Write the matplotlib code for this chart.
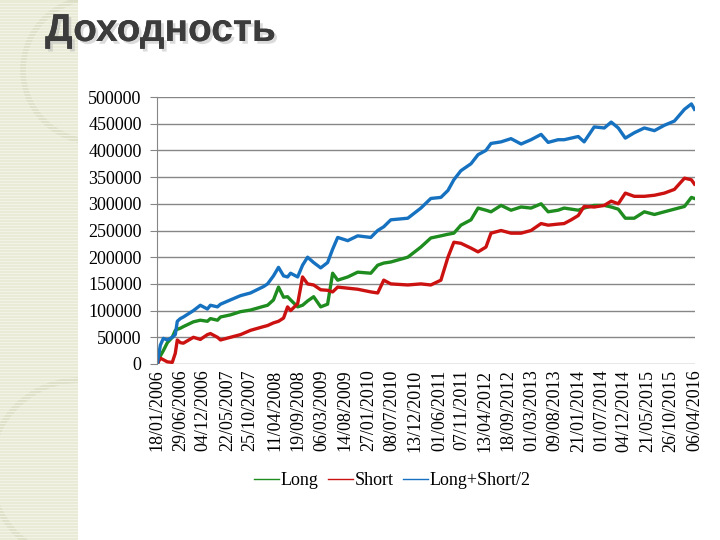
import matplotlib
matplotlib.use("Agg")
from matplotlib import pyplot as plt
from matplotlib.patches import Circle
import matplotlib.patheffects as pe
import pandas as pd

# values (roughly), dates dd/mm/yyyy
dates = ["18/01/2006", "08/02/2006", "01/03/2006", "29/03/2006", "02/05/2006", "23/05/2006",
         "06/06/2006", "27/06/2006", "18/07/2006", "26/09/2006", "13/11/2006", "01/01/2007",
         "22/01/2007", "12/03/2007", "02/04/2007", "10/06/2007", "19/08/2007", "27/10/2007",
         "26/01/2008", "23/02/2008", "04/04/2008", "09/05/2008", "13/06/2008", "11/07/2008",
         "01/08/2008", "19/09/2008", "23/10/2008", "27/11/2008", "08/01/2009", "26/02/2009",
         "15/04/2009", "20/05/2009", "24/06/2009", "02/09/2009", "10/11/2009", "09/02/2010",
         "29/03/2010", "10/05/2010", "28/06/2010", "24/10/2010", "23/01/2011", "02/04/2011",
         "11/06/2011", "30/07/2011", "09/09/2011", "28/10/2011", "06/01/2012", "24/02/2012",
         "19/04/2012", "24/05/2012", "02/08/2012", "10/10/2012", "19/12/2012", "26/02/2013",
         "07/05/2013", "25/06/2013", "02/09/2013", "14/10/2013", "02/12/2013", "20/01/2014",
         "02/03/2014", "11/05/2014", "20/07/2014", "06/09/2014", "25/10/2014", "13/12/2014",
         "13/02/2015", "24/04/2015", "03/07/2015", "10/09/2015", "19/11/2015", "28/01/2016",
         "16/03/2016", "06/04/2016"]

long_vals = [0, 15000, 25000, 40000, 50000, 63000, 65000, 67000, 70000, 79000, 82000, 80000,
             85000, 82000, 88000, 92000, 98000, 101000, 108000, 110000, 120000, 144000, 125000, 126000,
             120000, 107000, 110000, 118000, 126000, 107000, 112000, 170000, 157000, 163000, 172000, 170000,
             185000, 189000, 191000, 200000, 219000, 236000, 240000, 243000, 245000, 260000, 270000, 292000,
             288000, 285000, 297000, 288000, 294000, 292000, 300000, 285000, 288000, 292000, 290000, 288000,
             292000, 297000, 297000, 294000, 290000, 273000, 273000, 285000, 280000, 285000, 290000, 295000,
             312000, 310000]

short_vals = [0, 11000, 8000, 4000, 3000, 20000, 45000, 40000, 39000, 50000, 46000, 55000,
              57000, 50000, 45000, 50000, 55000, 63000, 70000, 72000, 77000, 80000, 86000, 107000,
              100000, 113000, 163000, 150000, 148000, 139000, 138000, 135000, 144000, 142000, 140000, 135000,
              133000, 157000, 150000, 148000, 150000, 148000, 157000, 200000, 228000, 226000, 217000, 210000,
              219000, 245000, 250000, 245000, 245000, 250000, 263000, 260000, 262000, 263000, 270000, 278000,
              295000, 294000, 297000, 305000, 300000, 320000, 314000, 314000, 316000, 320000, 327000, 348000,
              345000, 337000]

half_vals = [0, 35000, 48000, 45000, 50000, 55000, 80000, 85000, 88000, 100000, 110000, 103000,
             110000, 107000, 112000, 120000, 128000, 133000, 145000, 150000, 165000, 181000, 165000, 163000,
             170000, 163000, 185000, 200000, 190000, 180000, 190000, 215000, 237000, 231000, 240000, 237000,
             250000, 257000, 270000, 273000, 292000, 310000, 312000, 325000, 345000, 362000, 375000, 392000,
             400000, 413000, 416000, 422000, 412000, 420000, 430000, 415000, 420000, 420000, 423000, 426000,
             416000, 444000, 442000, 453000, 442000, 423000, 433000, 442000, 437000, 447000, 455000, 477000,
             487000, 477000]

tick_labels = ["18/01/2006", "29/06/2006", "04/12/2006", "22/05/2007", "25/10/2007", "11/04/2008",
               "19/09/2008", "06/03/2009", "14/08/2009", "27/01/2010", "08/07/2010", "13/12/2010",
               "01/06/2011", "07/11/2011", "13/04/2012", "18/09/2012", "01/03/2013", "09/08/2013",
               "21/01/2014", "01/07/2014", "04/12/2014", "21/05/2015", "26/10/2015", "06/04/2016"]

x = pd.to_datetime(dates, format="%d/%m/%Y")
ticks = pd.to_datetime(tick_labels, format="%d/%m/%Y")

plt.rcParams['font.family'] = ['Liberation Serif', 'DejaVu Serif']

fig = plt.figure(figsize=(7.2, 5.4), dpi=100)

# decorative strip on the left (own axes, so the arcs get clipped)
bg = fig.add_axes([0, 0, 78 / 720, 1], zorder=-1)
bg.set_xlim(0, 78)
bg.set_ylim(0, 540)
bg.set_facecolor('#e9ebd6')
for yy in range(0, 540, 3):
    bg.axhline(yy, color='#f2f3e6', lw=0.8)
for cx, cy, r in [(95, 470, 72), (80, 70, 90)]:
    bg.add_patch(Circle((cx, cy), r, fill=False, edgecolor='#dde0c6', lw=4))
bg.set_xticks([])
bg.set_yticks([])
for s in bg.spines.values():
    s.set_visible(False)

fig.text(45 / 720, 1 - 31 / 540, "Доходность", fontsize=28, fontweight='bold',
         family=['Liberation Sans', 'DejaVu Sans'], color='#3c3c3c', va='center', ha='left',
         path_effects=[pe.withSimplePatchShadow(offset=(2, -2), shadow_rgbFace='#b8b8b8', alpha=0.5),
                       pe.Normal()])

ax = fig.add_axes([157 / 720, 1 - 364 / 540, (695 - 157) / 720, (364 - 97) / 540])

ax.plot(x, long_vals, color='#1e8c1e', lw=2.4, label='Long')
ax.plot(x, short_vals, color='#cc1111', lw=2.4, label='Short')
ax.plot(x, half_vals, color='#1672c0', lw=2.4, label='Long+Short/2')

ax.set_ylim(0, 500000)
ax.set_yticks(range(0, 500001, 50000))
ax.set_yticklabels([str(v) for v in range(0, 500001, 50000)])
ax.set_xlim(ticks[0] - pd.Timedelta(days=2), ticks[-1] + pd.Timedelta(days=4))
ax.set_xticks(ticks)
ax.set_xticklabels(tick_labels, rotation=90)
ax.tick_params(axis='x', length=0, pad=4, labelsize=13)
ax.tick_params(axis='y', length=5, color='#868686', pad=6, labelsize=13)

ax.grid(axis='y', color='#868686', lw=1)
ax.set_axisbelow(True)
for s in ['top', 'right', 'bottom']:
    ax.spines[s].set_visible(False)
ax.spines['left'].set_color('#868686')

leg = ax.legend(loc='upper center', bbox_to_anchor=(0.437, -0.345), ncol=3, frameon=False,
                fontsize=13, handlelength=1.4, handletextpad=0.1, columnspacing=0.5)
for h in leg.legend_handles:
    h.set_linewidth(1)

fig.savefig('out.png', dpi=100)
